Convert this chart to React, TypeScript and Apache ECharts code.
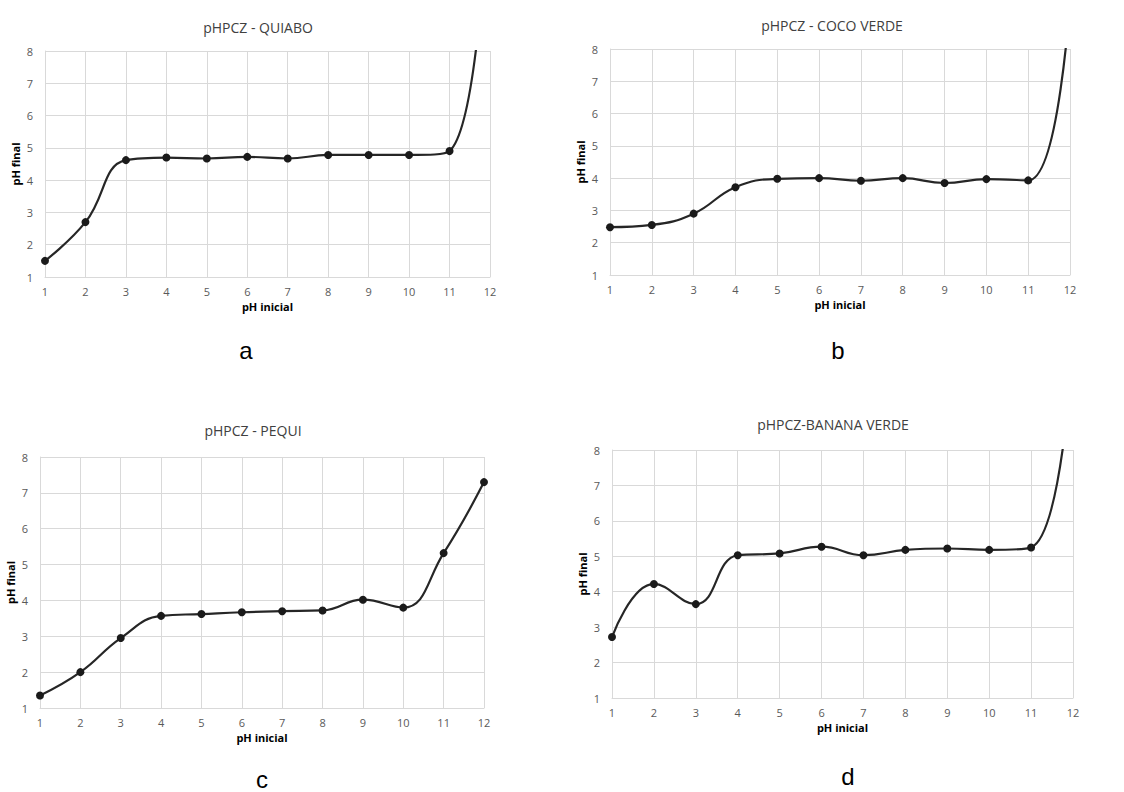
import React, { useEffect, useRef } from "react";
import * as echarts from "echarts";

const xValues = [1, 2, 3, 4, 5, 6, 7, 8, 9, 10, 11, 12];
const quiabo = [1.5, 2.7, 4.62, 4.7, 4.67, 4.72, 4.67, 4.78, 4.78, 4.78, 4.9, 14.0];
const cocoVerde = [2.48, 2.55, 2.9, 3.72, 3.98, 4.0, 3.92, 4.0, 3.85, 3.97, 3.93, 9.6];
const pequi = [1.35, 2.0, 2.95, 3.57, 3.62, 3.67, 3.7, 3.72, 4.02, 3.8, 5.32, 7.3];
const bananaVerde = [2.72, 4.22, 3.65, 5.03, 5.08, 5.27, 5.03, 5.18, 5.22, 5.18, 5.25, 11.0];
const titles = ["pHPCZ - QUIABO", "pHPCZ - COCO VERDE", "pHPCZ - PEQUI", "pHPCZ-BANANA VERDE"];
const panelLetters = ["a", "b", "c", "d"];
const xName = "pH inicial";
const yName = "pH final";

const FONT = "'Open Sans', 'Liberation Sans', sans-serif";

export default function App() {
  const ref = useRef<HTMLDivElement>(null);
  useEffect(() => {
    if (!ref.current) return;
    const chart = echarts.init(ref.current, null, { renderer: "svg" });
    const grids = [
      { left: 45, top: 51, width: 445, height: 226 },
      { left: 610, top: 49, width: 460, height: 226 },
      { left: 40, top: 457, width: 444, height: 251 },
      { left: 612, top: 450, width: 461, height: 248 },
    ];
    const series = [quiabo, cocoVerde, pequi, bananaVerde];
    const titlePos = [
      { x: 253, y: 15 },
      { x: 827, y: 13 },
      { x: 248, y: 418 },
      { x: 828, y: 412 },
    ];
    const letterPos = [
      { x: 246, y: 350 },
      { x: 838, y: 350 },
      { x: 262, y: 779 },
      { x: 848, y: 776 },
    ];
    const option: any = {
      animation: false,
      backgroundColor: "#ffffff",
      title: titles.map((t, i) => ({
        text: t,
        left: titlePos[i].x,
        top: titlePos[i].y,
        textAlign: "center",
        textStyle: { fontFamily: FONT, fontSize: 14, fontWeight: "normal", color: "#404040" },
      })),
      graphic: panelLetters.map((t, i) => ({
        type: "text",
        x: letterPos[i].x,
        y: letterPos[i].y,
        style: {
          text: t,
          fontFamily: "'Liberation Sans', Arial, sans-serif",
          fontSize: 24,
          fill: "#000",
          align: "center",
          verticalAlign: "middle",
        },
      })),
      grid: grids.map((g) => ({ ...g, containLabel: false })),
      xAxis: grids.map((_, i) => ({
        type: "value",
        gridIndex: i,
        min: 1,
        max: 12,
        interval: 1,
        name: xName,
        nameLocation: "middle",
        nameGap: 23,
        nameTextStyle: { fontFamily: FONT, fontSize: 11, fontWeight: "bold", color: "#000", lineHeight: 12 },
        axisLine: { show: true, lineStyle: { color: "#d9d9d9" } },
        axisTick: { show: false },
        axisLabel: { fontFamily: FONT, fontSize: 11, color: "#595959", margin: 8, lineHeight: 12 },
        splitLine: { show: true, lineStyle: { color: "#d9d9d9", width: 1 } },
      })),
      yAxis: grids.map((_, i) => ({
        type: "value",
        gridIndex: i,
        min: 1,
        max: 8,
        interval: 1,
        name: yName,
        nameLocation: "middle",
        nameRotate: 90,
        nameGap: 24,
        nameTextStyle: { fontFamily: FONT, fontSize: 11, fontWeight: "bold", color: "#000" },
        axisLine: { show: true, lineStyle: { color: "#d9d9d9" } },
        axisTick: { show: false },
        axisLabel: { fontFamily: FONT, fontSize: 11, color: "#595959", margin: 12 },
        splitLine: { show: true, lineStyle: { color: "#d9d9d9", width: 1 } },
      })),
      series: series.map((vals, i) => ({
        type: "line",
        xAxisIndex: i,
        yAxisIndex: i,
        smooth: 0.45,
        clip: true,
        symbol: "circle",
        symbolSize: 8,
        lineStyle: { color: "#262626", width: 2.2 },
        itemStyle: { color: "#1a1a1a" },
        data: vals.map((v, k) => {
          const d: any = { value: [xValues[k], v] };
          if (v > 8) d.symbol = "none";
          return d;
        }),
      })),
    };
    chart.setOption(option);
    return () => chart.dispose();
  }, []);
  return (
    <div
      ref={ref}
      style={{ position: "fixed", left: 0, top: 0, width: 1124, height: 792, background: "#fff" }}
    />
  );
}
